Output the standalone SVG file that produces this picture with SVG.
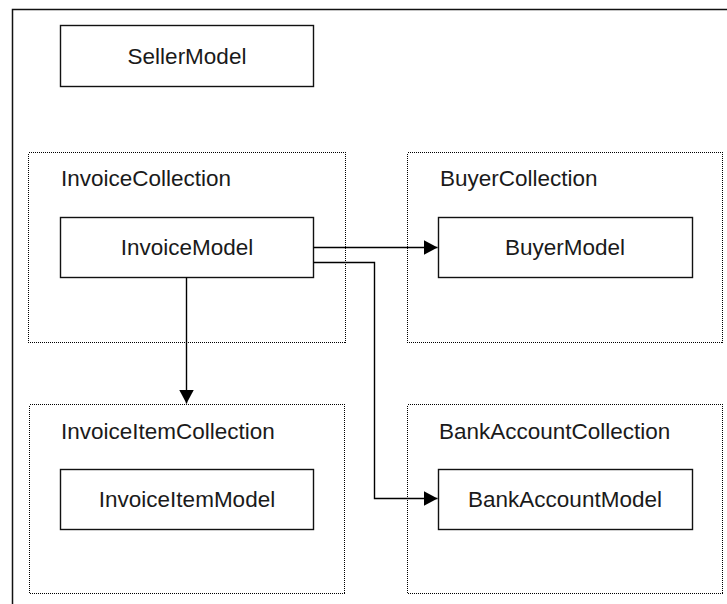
<svg xmlns="http://www.w3.org/2000/svg" width="727" height="604" viewBox="0 0 727 604">
<defs>
<style>
.frame{fill:none;stroke:#111;stroke-width:1.5}
.coll{fill:none;stroke:#000;stroke-width:1;stroke-dasharray:1 1;shape-rendering:crispEdges}
.model{fill:#fff;stroke:#111;stroke-width:1.4}
.conn{fill:none;stroke:#000;stroke-width:1.4}
text{font-family:"Liberation Sans",Arial,sans-serif;font-size:22.5px;fill:#1a1a1a}
.c{text-anchor:middle}
</style>
<marker id="arr" viewBox="0 0 14 15" refX="14" refY="7.5" markerWidth="14" markerHeight="15" markerUnits="userSpaceOnUse" orient="auto">
<path d="M0,0 L14,7.5 L0,15 Z" fill="#000"/>
</marker>
</defs>
<rect width="727" height="604" fill="#fff"/>
<path class="frame" d="M12.5,604 V9.5 H727"/>
<g id="SellerModel">
<rect class="model" x="60.5" y="25.5" width="253" height="61"/>
<text class="c" x="187" y="64">SellerModel</text>
</g>
<g id="InvoiceCollection">
<rect class="coll" x="28.5" y="152.5" width="317" height="190"/>
<text x="61" y="186">InvoiceCollection</text>
<g id="InvoiceModel">
<rect class="model" x="60.5" y="217.5" width="253" height="60"/>
<text class="c" x="187" y="255">InvoiceModel</text>
</g>
</g>
<g id="BuyerCollection">
<rect class="coll" x="407.5" y="152.5" width="315" height="190"/>
<text x="440" y="186">BuyerCollection</text>
<g id="BuyerModel">
<rect class="model" x="438.5" y="217.5" width="254" height="60"/>
<text class="c" x="565" y="255">BuyerModel</text>
</g>
</g>
<g id="InvoiceItemCollection">
<rect class="coll" x="29.5" y="404.5" width="315" height="189"/>
<text x="61" y="439">InvoiceItemCollection</text>
<g id="InvoiceItemModel">
<rect class="model" x="60.5" y="469.5" width="253" height="60"/>
<text class="c" x="187" y="507">InvoiceItemModel</text>
</g>
</g>
<g id="BankAccountCollection">
<rect class="coll" x="407.5" y="404.5" width="315" height="189"/>
<text x="439" y="439">BankAccountCollection</text>
<g id="BankAccountModel">
<rect class="model" x="438.5" y="469.5" width="254" height="60"/>
<text class="c" x="565" y="507">BankAccountModel</text>
</g>
</g>
<g id="connectors">
<path class="conn" d="M313.5,247.5 H437.5" marker-end="url(#arr)"/>
<path class="conn" d="M313.5,262.5 H374.5 V498.5 H437.5" marker-end="url(#arr)"/>
<path class="conn" d="M186.5,277.5 V403.5" marker-end="url(#arr)"/>
</g>
</svg>
